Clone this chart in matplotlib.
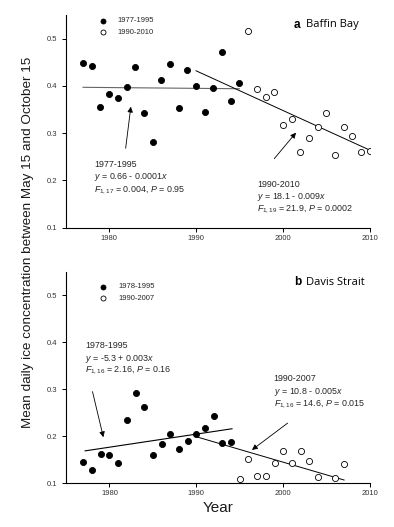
import numpy as np
import matplotlib
matplotlib.use("Agg")
from matplotlib import pyplot as plt

plt.rcParams['font.family'] = ['Liberation Sans', 'DejaVu Sans']
plt.rcParams['mathtext.fontset'] = 'custom'
plt.rcParams['mathtext.rm'] = 'Liberation Sans'
plt.rcParams['mathtext.it'] = 'Liberation Sans:italic'

# Baffin Bay
a_years_early = list(range(1977, 1996))
a_vals_early = [0.449, 0.443, 0.356, 0.382, 0.375, 0.397, 0.441, 0.343, 0.282, 0.412,
                0.447, 0.353, 0.433, 0.400, 0.344, 0.395, 0.472, 0.367, 0.407]
a_years_late = list(range(1996, 2011))
a_vals_late = [0.517, 0.394, 0.377, 0.387, 0.317, 0.331, 0.261, 0.290, 0.312, 0.343,
               0.253, 0.312, 0.295, 0.260, 0.263]
a_fit1_x = [1977, 1995]
a_fit1_y = [0.397, 0.394]
a_fit2_x = [1990, 2010]
a_fit2_y = [0.432, 0.264]

# Davis Strait
b_years_early = list(range(1977, 1995))
b_vals_early = [0.146, 0.129, 0.163, 0.161, 0.143, 0.234, 0.292, 0.263, 0.161, 0.183,
                0.205, 0.172, 0.190, 0.204, 0.218, 0.243, 0.186, 0.188]
b_years_late = [1995, 1996, 1997, 1998, 1999, 2000, 2001, 2002, 2003, 2004, 2006, 2007]
b_vals_late = [0.109, 0.152, 0.115, 0.116, 0.143, 0.168, 0.143, 0.169, 0.148, 0.114,
               0.111, 0.140]
b_fit1_x = [1977.2, 1994.1]
b_fit1_y = [0.169, 0.216]
b_fit2_x = [1990, 2007]
b_fit2_y = [0.199, 0.107]

txt = '#262626'
fig = plt.figure(figsize=(3.94, 5.27), dpi=100)
ax_a = fig.add_axes([0.1667, 0.568, 0.772, 0.4035])
ax_b = fig.add_axes([0.1675, 0.0829, 0.772, 0.4016])


def style(ax):
    ax.set_xlim(1975, 2010)
    ax.set_ylim(0.1, 0.55)
    ax.set_xticks([1980, 1990, 2000, 2010])
    ax.set_yticks([0.1, 0.2, 0.3, 0.4, 0.5])
    ax.set_yticklabels(['0.1', '0.2', '0.3', '0.4', '0.5'])
    for s in ['top', 'right']:
        ax.spines[s].set_visible(False)
    for s in ['left', 'bottom']:
        ax.spines[s].set_linewidth(0.8)
    ax.tick_params(direction='out', length=3, width=0.7, labelsize=5.5,
                   colors='black', labelcolor='#333333', pad=2)
    ax.tick_params(axis='y', pad=3)


def panel(ax, ye, ve, yl, vl, f1x, f1y, f2x, f2y, f1col):
    ax.plot(ye, ve, 'o', ms=4.4, mfc='black', mec='black', mew=0.6, zorder=3)
    ax.plot(yl, vl, 'o', ms=4.4, mfc='white', mec='black', mew=0.6, zorder=3)
    ax.plot(f1x, f1y, '-', color=f1col, lw=0.8, zorder=2)
    ax.plot(f2x, f2y, '-', color='black', lw=0.7, zorder=2)


def arrow(ax, tail, head):
    ax.annotate('', xy=head, xytext=tail,
                arrowprops=dict(arrowstyle='-|>', lw=0.6, color='black',
                                mutation_scale=8, shrinkA=0, shrinkB=0))


def legend(ax, y1, y2, lab1, lab2):
    ax.plot([1979.3], [y1], 'o', ms=3.6, mfc='black', mec='black', mew=0.6, clip_on=False)
    ax.plot([1979.3], [y2], 'o', ms=3.6, mfc='white', mec='black', mew=0.6, clip_on=False)
    ax.text(1981.0, y1, lab1, fontsize=5.5, va='center', color=txt)
    ax.text(1981.0, y2, lab2, fontsize=5.5, va='center', color=txt)


def block(ax, x, ys, lines):
    for y, s in zip(ys, lines):
        ax.text(x, y, s, fontsize=6.4, va='center', ha='left', color=txt)


# panel a
style(ax_a)
panel(ax_a, a_years_early, a_vals_early, a_years_late, a_vals_late,
      a_fit1_x, a_fit1_y, a_fit2_x, a_fit2_y, '#666666')
arrow(ax_a, (1981.9, 0.268), (1982.5, 0.356))
arrow(ax_a, (1999.0, 0.246), (2001.5, 0.301))
legend(ax_a, 0.538, 0.514, '1977-1995', '1990-2010')
block(ax_a, 1978.3, [0.234, 0.207, 0.180],
      ['1977-1995', '$y$ = 0.66 - 0.0001$x$', '$F_{1,17}$ = 0.004, $P$ = 0.95'])
block(ax_a, 1997.0, [0.192, 0.165, 0.139],
      ['1990-2010', '$y$ = 18.1 - 0.009$x$', '$F_{1,19}$ = 21.9, $P$ = 0.0002'])
ax_a.text(2001.2, 0.529, 'a', fontsize=8.5, fontweight='bold', va='center')
ax_a.text(2002.6, 0.529, 'Baffin Bay', fontsize=8, va='center', family='Open Sans')

# panel b
style(ax_b)
panel(ax_b, b_years_early, b_vals_early, b_years_late, b_vals_late,
      b_fit1_x, b_fit1_y, b_fit2_x, b_fit2_y, 'black')
arrow(ax_b, (1978.05, 0.295), (1979.3, 0.198))
arrow(ax_b, (2000.5, 0.228), (1996.4, 0.171))
legend(ax_b, 0.518, 0.494, '1978-1995', '1990-2007')
block(ax_b, 1977.2, [0.392, 0.365, 0.340],
      ['1978-1995', '$y$ = -5.3 + 0.003$x$', '$F_{1,16}$ = 2.16, $P$ = 0.16'])
block(ax_b, 1998.9, [0.323, 0.295, 0.269],
      ['1990-2007', '$y$ = 10.8 - 0.005$x$', '$F_{1,16}$ = 14.6, $P$ = 0.015'])
ax_b.text(2001.2, 0.527, 'b', fontsize=8.5, fontweight='bold', va='center')
ax_b.text(2002.6, 0.527, 'Davis Strait', fontsize=8, va='center', family='Open Sans')
ax_b.set_xlabel('Year', fontsize=11, labelpad=3, color='#1a1a1a')

fig.text(0.071, 0.54, 'Mean daily ice concentration between May 15 and October 15',
         rotation=90, fontsize=9.7, ha='center', va='center', color='#1a1a1a')

fig.savefig('out.png', dpi=100)
